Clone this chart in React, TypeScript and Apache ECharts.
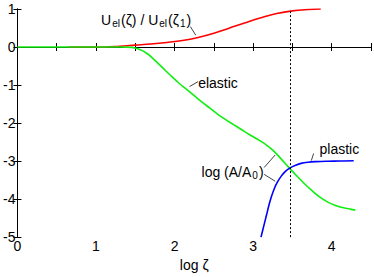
import React, { useEffect, useRef } from "react";
import * as echarts from "echarts";

const redX = [0.65, 1.1, 1.3, 1.5, 1.7, 1.9, 2.1, 2.3, 2.5, 2.7, 2.9, 3.1, 3.3, 3.5, 3.7, 3.86];
const redY = [0, 0, 0.02, 0.05, 0.08, 0.12, 0.17, 0.25, 0.36, 0.5, 0.64, 0.77, 0.88, 0.95, 0.985, 1.0];

const greenX = [0, 0.5, 1.0, 1.3, 1.45, 1.55, 1.65, 1.75, 1.85, 1.95, 2.05, 2.15, 2.25, 2.35, 2.45, 2.55, 2.65, 2.75, 2.85, 2.95, 3.05, 3.15, 3.25, 3.35, 3.45, 3.55, 3.65, 3.75, 3.85, 3.95, 4.05, 4.15, 4.25, 4.3];
const greenY = [0, 0, 0, 0, -0.01, -0.06, -0.17, -0.35, -0.55, -0.75, -0.94, -1.11, -1.28, -1.45, -1.61, -1.77, -1.91, -2.04, -2.17, -2.3, -2.42, -2.55, -2.71, -2.93, -3.16, -3.38, -3.59, -3.78, -3.95, -4.08, -4.17, -4.23, -4.27, -4.29];

const blueX = [3.1, 3.13, 3.17, 3.2, 3.23, 3.27, 3.31, 3.36, 3.41, 3.47, 3.54, 3.61, 3.7, 3.8, 3.95, 4.1, 4.28];
const blueY = [-5.0, -4.75, -4.42, -4.17, -3.95, -3.72, -3.55, -3.39, -3.27, -3.18, -3.11, -3.06, -3.03, -3.015, -3.005, -3.0, -2.99];

const xTicks = [0, 1, 2, 3, 4];
const yTicks = [-5, -4, -3, -2, -1, 0, 1];
const zetaMarker = 3.47;

const pairs = (xs: number[], ys: number[]) => xs.map((x, i) => [x, ys[i]]);

const FONT = "Liberation Sans, Arial, Helvetica, sans-serif";

export default function App() {
  const ref = useRef<HTMLDivElement>(null);
  useEffect(() => {
    document.body.style.margin = "0";
    if (!ref.current) return;
    const chart = echarts.init(ref.current, null, { renderer: "svg" });
    const axisCommon = {
      axisLine: { show: true, lineStyle: { color: "#000", width: 1 } },
      axisTick: { show: true, inside: true, length: 4, lineStyle: { color: "#000" } },
      splitLine: { show: false },
    };
    chart.setOption({
      animation: false,
      backgroundColor: "#fff",
      textStyle: { fontFamily: FONT },
      grid: { left: 17, right: 1, top: 9, bottom: 33, containLabel: false },
      xAxis: [
        {
          type: "value", min: 0, max: 4.5, interval: 0.5, position: "bottom",
          ...axisCommon,
          axisLabel: {
            color: "#000", fontSize: 14, fontFamily: FONT, margin: 2,
            formatter: (v: number) => (xTicks.includes(v) ? String(v) : ""),
          },
          name: "log ζ", nameLocation: "middle", nameGap: 14,
          nameTextStyle: { color: "#000", fontSize: 14, fontFamily: FONT, verticalAlign: "top" },
        },
        {
          type: "value", min: 0, max: 4.5, interval: 0.5, position: "top",
          ...axisCommon, axisLabel: { show: false },
        },
      ],
      yAxis: [
        {
          type: "value", min: -5, max: 1, interval: 1, position: "left",
          ...axisCommon,
          axisLabel: {
            color: "#000", fontSize: 14, fontFamily: FONT, margin: 2,
            formatter: (v: number) => (yTicks.includes(v) ? String(v) : ""),
          },
        },
        {
          type: "value", min: -5, max: 1, interval: 1, position: "right",
          ...axisCommon, axisLabel: { show: false },
        },
      ],
      series: [
        {
          type: "line", name: "Uel", data: pairs(redX, redY), showSymbol: false,
          smooth: 0.4,
          lineStyle: { color: "#ff0000", width: 1.6 }, itemStyle: { color: "#ff0000" },
          markLine: {
            silent: true, symbol: "none", label: { show: false },
            lineStyle: { color: "#000", width: 1, type: [2, 2] },
            data: [{ xAxis: zetaMarker }],
          },
        },
        {
          type: "line", name: "elastic", data: pairs(greenX, greenY), showSymbol: false,
          smooth: 0.4,
          lineStyle: { color: "#11ee11", width: 1.6 }, itemStyle: { color: "#11ee11" },
        },
        {
          type: "line", name: "plastic", data: pairs(blueX, blueY), showSymbol: false,
          smooth: 0.4,
          lineStyle: { color: "#0000ff", width: 1.6 }, itemStyle: { color: "#0000ff" },
        },
      ],
    });

    const px = (x: number, y: number) => chart.convertToPixel({ gridIndex: 0 }, [x, y]) as number[];
    const sub = { fontSize: 10, fontFamily: FONT, fill: "#000", verticalAlign: "bottom", lineHeight: 12, padding: [5, 1, 0, 1] };
    const big = { fontSize: 14, fontFamily: FONT, fill: "#000", lineHeight: 16 };
    const text = (x: number, y: number, t: string) => {
      const p = px(x, y);
      return {
        type: "text", x: p[0], y: p[1], silent: true,
        style: { text: t, verticalAlign: "middle", align: "left", fill: "#000", fontSize: 14, fontFamily: FONT, rich: { b: big, s: sub } },
      };
    };
    const line = (x1: number, y1: number, x2: number, y2: number) => {
      const a = px(x1, y1), b = px(x2, y2);
      return {
        type: "line", silent: true,
        shape: { x1: a[0], y1: a[1], x2: b[0], y2: b[1] },
        style: { stroke: "#444", lineWidth: 1 },
      };
    };
    chart.setOption({
      graphic: [
        text(1.065, 0.71, "{b|U}{s|el}{b|(ζ) / U}{s|el}{b|(ζ}{s|1}{b|)}"),
        line(2.2, 0.54, 2.27, 0.31),
        text(2.3, -0.95, "elastic"),
        line(2.19, -1.04, 2.3, -0.91),
        text(3.845, -2.69, "plastic"),
        line(3.74, -2.99, 3.77, -2.8),
        text(2.343, -3.3, "{b|log (A/A}{s|0}{b|)}"),
        line(3.14, -3.17, 3.28, -2.84),
        line(3.14, -3.35, 3.28, -3.53),
      ],
    });
    return () => chart.dispose();
  }, []);
  return <div ref={ref} style={{ width: 374, height: 277 }} />;
}
